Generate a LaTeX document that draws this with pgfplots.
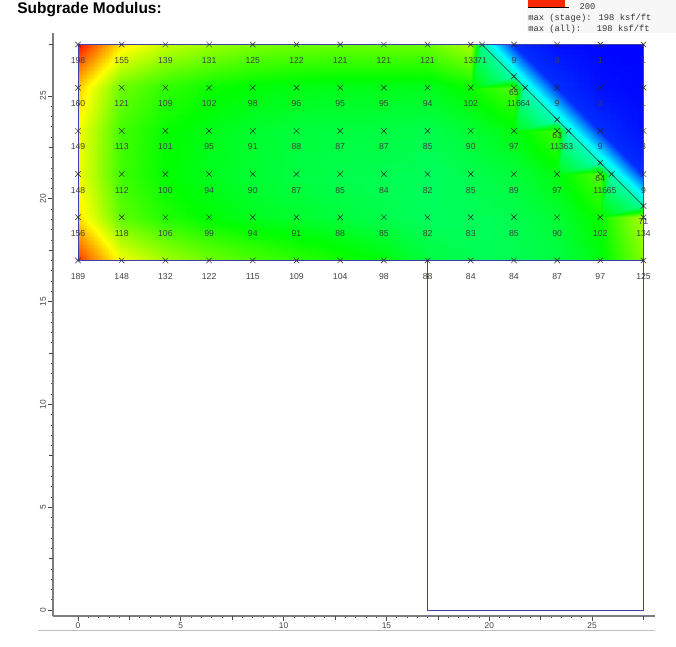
\documentclass[border=0pt]{standalone}
\usepackage{fontspec}
\setmainfont{Liberation Sans}
\newfontfamily\legfont{Liberation Mono}
\usepackage{pgfplots}
\usepackage{pgfplotstable}
\usepgfplotslibrary{patchplots}
\pgfplotsset{compat=1.18}

\definecolor{meshblue}{RGB}{62,62,172}
\definecolor{axgray}{RGB}{125,125,125}
\definecolor{txgray}{RGB}{70,70,70}

% mesh nodes: x y value
\pgfplotstableread{
x y c
0 27.5 198
2.125 27.5 155
4.25 27.5 139
6.375 27.5 131
8.5 27.5 125
10.625 27.5 122
12.75 27.5 121
14.875 27.5 121
17 27.5 121
19.1 27.5 133
19.65 27.5 71
21.2 27.5 9
23.3 27.5 3
25.4 27.5 1
27.5 27.5 1
21.2 25.95 65
0 25.4 160
2.125 25.4 121
4.25 25.4 109
6.375 25.4 102
8.5 25.4 98
10.625 25.4 96
12.75 25.4 95
14.875 25.4 95
17 25.4 94
19.1 25.4 102
21.2 25.4 116
21.75 25.4 64
23.3 25.4 9
25.4 25.4 3
27.5 25.4 1
23.3 23.85 63
0 23.3 149
2.125 23.3 113
4.25 23.3 101
6.375 23.3 95
8.5 23.3 91
10.625 23.3 88
12.75 23.3 87
14.875 23.3 87
17 23.3 85
19.1 23.3 90
21.2 23.3 97
23.3 23.3 113
23.85 23.3 63
25.4 23.3 9
27.5 23.3 3
25.4 21.75 64
0 21.2 148
2.125 21.2 112
4.25 21.2 100
6.375 21.2 94
8.5 21.2 90
10.625 21.2 87
12.75 21.2 85
14.875 21.2 84
17 21.2 82
19.1 21.2 85
21.2 21.2 89
23.3 21.2 97
25.4 21.2 116
25.95 21.2 65
27.5 21.2 9
27.5 19.65 71
0 19.1 156
2.125 19.1 118
4.25 19.1 106
6.375 19.1 99
8.5 19.1 94
10.625 19.1 91
12.75 19.1 88
14.875 19.1 85
17 19.1 82
19.1 19.1 83
21.2 19.1 85
23.3 19.1 90
25.4 19.1 102
27.5 19.1 134
0 17 189
2.125 17 148
4.25 17 132
6.375 17 122
8.5 17 115
10.625 17 109
12.75 17 104
14.875 17 98
17 17 88
19.1 17 84
21.2 17 84
23.3 17 87
25.4 17 97
27.5 17 125
}\nodetable

\begin{document}
\begin{tikzpicture}[x=1pt,y=1pt]
\path[use as bounding box] (0,0) rectangle (507,485.25);
\begin{axis}[
    at={(39.75pt,23.25pt)}, anchor=south west,
    scale only axis,
    width=451.5pt, height=437.25pt,
    xmin=-1.216, xmax=28.06,
    ymin=-0.29, ymax=28.06,
    clip=false,
    axis x line*=bottom, axis y line*=left,
    axis line style={axgray, line width=1.1pt, -},
    xtick={0,5,...,25}, ytick={0,5,...,25},
    minor x tick num=9, minor y tick num=9,
    extra x ticks={2.5,7.5,12.5,17.5,22.5,27.5},
    extra y ticks={2.5,7.5,12.5,17.5,22.5,27.5},
    extra x tick labels={}, extra y tick labels={},
    extra tick style={major tick length=3pt},
    tick align=outside,
    major tick length=4pt, minor tick length=1.6pt,
    tick style={txgray, line width=0.5pt},
    /pgf/number format/assume math mode=true,
    tick label style={font=\fontsize{6.3}{7}\selectfont, text=txgray},
    xticklabel style={yshift=2.5pt},
    yticklabel style={rotate=90, anchor=south, yshift=-2.2pt},
    colormap={soil}{rgb255=(0,0,255) rgb255=(0,255,255) rgb255=(0,255,0) rgb255=(255,255,0) rgb255=(255,0,0)},
]
% regular cells
\addplot[patch, patch type=bilinear, shader=interp, point meta min=0, point meta max=200, table/row sep=\\,
  patch table={
  0 1 17 16\\ 1 2 18 17\\ 2 3 19 18\\ 3 4 20 19\\ 4 5 21 20\\ 5 6 22 21\\ 6 7 23 22\\ 7 8 24 23\\ 8 9 25 24\\
  12 13 29 28\\ 13 14 30 29\\
  16 17 33 32\\ 17 18 34 33\\ 18 19 35 34\\ 19 20 36 35\\ 20 21 37 36\\ 21 22 38 37\\ 22 23 39 38\\ 23 24 40 39\\ 24 25 41 40\\ 25 26 42 41\\
  29 30 46 45\\
  32 33 49 48\\ 33 34 50 49\\ 34 35 51 50\\ 35 36 52 51\\ 36 37 53 52\\ 37 38 54 53\\ 38 39 55 54\\ 39 40 56 55\\ 40 41 57 56\\ 41 42 58 57\\ 42 43 59 58\\
  48 49 65 64\\ 49 50 66 65\\ 50 51 67 66\\ 51 52 68 67\\ 52 53 69 68\\ 53 54 70 69\\ 54 55 71 70\\ 55 56 72 71\\ 56 57 73 72\\ 57 58 74 73\\ 58 59 75 74\\ 59 60 76 75\\
  64 65 79 78\\ 65 66 80 79\\ 66 67 81 80\\ 67 68 82 81\\ 68 69 83 82\\ 69 70 84 83\\ 70 71 85 84\\ 71 72 86 85\\ 72 73 87 86\\ 73 74 88 87\\ 74 75 89 88\\ 75 76 90 89\\ 76 77 91 90\\
  }]
  table[x=x, y=y, meta=c, point meta=explicit] {\nodetable};
% cells cut by the diagonal
\addplot[patch, patch type=triangle, shader=interp, point meta min=0, point meta max=200, point meta=explicit, table/row sep=\\,
  patch table={
  9 10 25\\ 10 15 25\\ 15 26 25\\ 15 27 26\\ 10 11 15\\ 11 27 15\\ 11 28 27\\ 11 12 28\\
  26 27 42\\ 27 31 42\\ 31 43 42\\ 31 44 43\\ 27 28 31\\ 28 44 31\\ 28 45 44\\ 28 29 45\\
  43 44 59\\ 44 47 59\\ 47 60 59\\ 47 61 60\\ 44 45 47\\ 45 61 47\\ 45 62 61\\ 45 46 62\\
  60 61 76\\ 61 63 76\\ 63 77 76\\ 61 62 63\\
  }]
  table[x=x, y=y, meta=c] {\nodetable};
% wall and excavation outline
\addplot[meshblue, line width=0.7pt] coordinates {(0,17) (0,27.5) (27.5,27.5) (27.5,0) (17,0) (17,17)};
\addplot[meshblue, line width=0.7pt] coordinates {(0,17) (27.5,17)};
\addplot[meshblue!65!black, line width=0.4pt] coordinates {(19.65,27.5) (27.5,19.65)};
% node marks and values
\addplot[only marks, mark=x, mark size=2.9pt, mark options={black!85, line width=0.35pt},
  point meta=explicit symbolic,
  nodes near coords,
  every node near coord/.style={anchor=center, yshift=-12pt, inner sep=0pt,
    font=\fontsize{6.5}{7}\selectfont, text=black!75},
  ] table[x=x, y=y, meta=c] {\nodetable};
\end{axis}
% header bits outside the axis
\node[anchor=west, font=\bfseries\fontsize{11.6}{13}\selectfont] at (9.5,478) {Subgrade Modulus:};
\fill[black!3] (395,460.5) rectangle (507,485.25);
\fill[red!85!yellow] (396,480) rectangle (424,485.25);
\draw[black, line width=0.5pt] (396,480) -- (427,480);
\node[anchor=west, inner sep=0pt, text=black!80, font=\legfont\fontsize{6.6}{7}\selectfont] at (434.5,480) {200};
\node[anchor=west, inner sep=0pt, text=black!80, font=\legfont\fontsize{6.6}{7}\selectfont] at (396,471.5) {max (stage): 198 ksf/ft};
\node[anchor=west, inner sep=0pt, text=black!80, font=\legfont\fontsize{6.6}{7}\selectfont] at (396,463.5) {max (all):\ \ \ 198 ksf/ft};
\draw[black!25, line width=0.6pt] (28.5,12.75) -- (491.25,12.75);
\end{tikzpicture}
\end{document}
